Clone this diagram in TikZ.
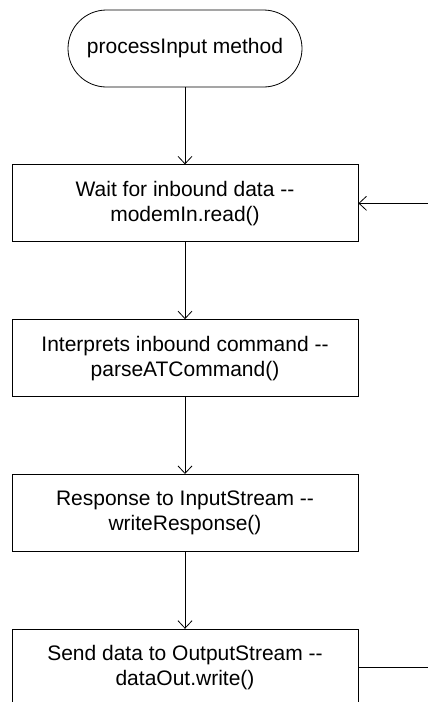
\documentclass[tikz,border=0pt]{standalone}
\usepackage{fontspec}
\setmainfont{Liberation Sans}
\usetikzlibrary{arrows.meta,positioning}

\begin{document}
\begin{tikzpicture}[
  line width=0.8pt,
  start/.style={rectangle,draw,rounded corners=38.5pt,minimum width=234pt,
                minimum height=77pt,align=center,font=\fontsize{21}{25}\selectfont},
  block/.style={rectangle,draw,minimum width=346pt,minimum height=77pt,
                align=center,font=\fontsize{21}{25}\selectfont},
  arrow/.style={-{Straight Barb[length=7.5pt,width=14pt]}}]

\useasboundingbox (0,0) rectangle (428pt,-702pt);

\node[start] (proc) at (185pt,-48.5pt) {processInput method};
\node[block,below=77pt of proc] (wait) {Wait for inbound data -{}-\\modemIn.read()};
\node[block,below=77pt of wait] (parse) {Interprets inbound command -{}-\\parseATCommand()};
\node[block,below=77pt of parse] (resp) {Response to InputStream -{}-\\writeResponse()};
\node[block,below=77pt of resp] (send) {Send data to OutputStream -{}-\\dataOut.write()};

\coordinate (back) at (428pt,0 |- wait.east);
\coordinate (out) at (428pt,0 |- send.east);

\draw[arrow] (proc)--(wait);
\draw[arrow] (wait)--(parse);
\draw[arrow] (parse)--(resp);
\draw[arrow] (resp)--(send);

\draw[arrow] (back)--(wait.east);
\draw (send.east)--(out);
\end{tikzpicture}
\end{document}
